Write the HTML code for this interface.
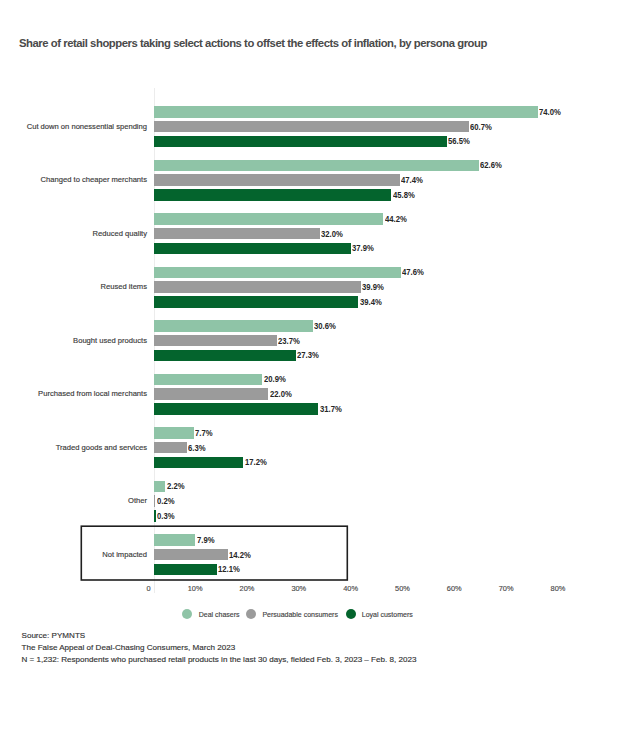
<!DOCTYPE html>
<html><head><meta charset="utf-8"><style>
html,body{margin:0;padding:0;background:#fff;}
.cat,.lt,.src,.tick{-webkit-text-stroke:0.15px currentColor;}
body{width:624px;height:750px;position:relative;overflow:hidden;font-family:"Liberation Sans",sans-serif;}
.title{position:absolute;left:19px;top:36.6px;font-size:11.3px;font-weight:bold;color:#4a4a4a;white-space:nowrap;letter-spacing:-0.46px;line-height:13px;}
.bar{position:absolute;}
.val{position:absolute;font-size:8.5px;transform:scaleX(0.905);transform-origin:0 50%;font-weight:bold;color:#262626;white-space:nowrap;line-height:10px;margin-top:-5px;}
.cat{position:absolute;font-size:7.6px;color:#3a3a3a;white-space:nowrap;line-height:10px;margin-top:-4.8px;text-align:right;}
.axis{position:absolute;left:154px;top:88px;width:1px;height:505px;background:#ececec;}
.box{position:absolute;left:80px;top:525px;width:268px;height:56px;border:2px solid #1c1c1c;box-sizing:border-box;}
.tick{position:absolute;top:583.5px;font-size:7.4px;color:#4a4a4a;line-height:10px;white-space:nowrap;}
.leg{position:absolute;top:609px;height:10px;}
.dot{position:absolute;width:10px;height:10px;border-radius:50%;top:0;}
.lt{position:absolute;font-size:7px;color:#444;white-space:nowrap;line-height:10px;margin-top:0.8px;}
.src{position:absolute;left:21.5px;top:630.3px;font-size:8.08px;color:#333;line-height:11.85px;white-space:nowrap;}
</style></head><body>
<div class="title">Share of retail shoppers taking select actions to offset the effects of inflation, by persona group</div>
<div class="axis"></div>
<div class="bar" style="left:154.07px;top:106.00px;width:383.54px;height:11.5px;background:#8fc4a7"></div><div class="val" style="left:539.11px;top:111.75px">74.0%</div><div class="bar" style="left:154.07px;top:120.75px;width:314.61px;height:11.5px;background:#9b9b9b"></div><div class="val" style="left:470.18px;top:126.50px">60.7%</div><div class="bar" style="left:154.07px;top:135.50px;width:292.84px;height:11.5px;background:#04642d"></div><div class="val" style="left:448.41px;top:141.25px">56.5%</div><div class="cat" style="right:477.00px;top:126.50px">Cut down on nonessential spending</div><div class="bar" style="left:154.07px;top:159.50px;width:324.46px;height:11.5px;background:#8fc4a7"></div><div class="val" style="left:480.03px;top:165.25px">62.6%</div><div class="bar" style="left:154.07px;top:174.25px;width:245.67px;height:11.5px;background:#9b9b9b"></div><div class="val" style="left:401.24px;top:180.00px">47.4%</div><div class="bar" style="left:154.07px;top:189.00px;width:237.38px;height:11.5px;background:#04642d"></div><div class="val" style="left:392.95px;top:194.75px">45.8%</div><div class="cat" style="right:477.00px;top:180.00px">Changed to cheaper merchants</div><div class="bar" style="left:154.07px;top:213.00px;width:229.09px;height:11.5px;background:#8fc4a7"></div><div class="val" style="left:384.66px;top:218.75px">44.2%</div><div class="bar" style="left:154.07px;top:227.75px;width:165.86px;height:11.5px;background:#9b9b9b"></div><div class="val" style="left:321.43px;top:233.50px">32.0%</div><div class="bar" style="left:154.07px;top:242.50px;width:196.44px;height:11.5px;background:#04642d"></div><div class="val" style="left:352.01px;top:248.25px">37.9%</div><div class="cat" style="right:477.00px;top:233.50px">Reduced quality</div><div class="bar" style="left:154.07px;top:266.50px;width:246.71px;height:11.5px;background:#8fc4a7"></div><div class="val" style="left:402.28px;top:272.25px">47.6%</div><div class="bar" style="left:154.07px;top:281.25px;width:206.80px;height:11.5px;background:#9b9b9b"></div><div class="val" style="left:362.37px;top:287.00px">39.9%</div><div class="bar" style="left:154.07px;top:296.00px;width:204.21px;height:11.5px;background:#04642d"></div><div class="val" style="left:359.78px;top:301.75px">39.4%</div><div class="cat" style="right:477.00px;top:287.00px">Reused items</div><div class="bar" style="left:154.07px;top:320.00px;width:158.60px;height:11.5px;background:#8fc4a7"></div><div class="val" style="left:314.17px;top:325.75px">30.6%</div><div class="bar" style="left:154.07px;top:334.75px;width:122.84px;height:11.5px;background:#9b9b9b"></div><div class="val" style="left:278.41px;top:340.50px">23.7%</div><div class="bar" style="left:154.07px;top:349.50px;width:141.50px;height:11.5px;background:#04642d"></div><div class="val" style="left:297.07px;top:355.25px">27.3%</div><div class="cat" style="right:477.00px;top:340.50px">Bought used products</div><div class="bar" style="left:154.07px;top:373.50px;width:108.32px;height:11.5px;background:#8fc4a7"></div><div class="val" style="left:263.89px;top:379.25px">20.9%</div><div class="bar" style="left:154.07px;top:388.25px;width:114.03px;height:11.5px;background:#9b9b9b"></div><div class="val" style="left:269.60px;top:394.00px">22.0%</div><div class="bar" style="left:154.07px;top:403.00px;width:164.30px;height:11.5px;background:#04642d"></div><div class="val" style="left:319.87px;top:408.75px">31.7%</div><div class="cat" style="right:477.00px;top:394.00px">Purchased from local merchants</div><div class="bar" style="left:154.07px;top:427.00px;width:39.91px;height:11.5px;background:#8fc4a7"></div><div class="val" style="left:195.48px;top:432.75px">7.7%</div><div class="bar" style="left:154.07px;top:441.75px;width:32.65px;height:11.5px;background:#9b9b9b"></div><div class="val" style="left:188.22px;top:447.50px">6.3%</div><div class="bar" style="left:154.07px;top:456.50px;width:89.15px;height:11.5px;background:#04642d"></div><div class="val" style="left:244.72px;top:462.25px">17.2%</div><div class="cat" style="right:477.00px;top:447.50px">Traded goods and services</div><div class="bar" style="left:154.07px;top:480.50px;width:11.40px;height:11.5px;background:#8fc4a7"></div><div class="val" style="left:166.97px;top:486.25px">2.2%</div><div class="bar" style="left:154.07px;top:495.25px;width:1.04px;height:11.5px;background:#9b9b9b"></div><div class="val" style="left:156.61px;top:501.00px">0.2%</div><div class="bar" style="left:154.07px;top:510.00px;width:1.55px;height:11.5px;background:#04642d"></div><div class="val" style="left:157.12px;top:515.75px">0.3%</div><div class="cat" style="right:477.00px;top:501.00px">Other</div><div class="bar" style="left:154.07px;top:534.00px;width:40.95px;height:11.5px;background:#8fc4a7"></div><div class="val" style="left:196.52px;top:539.75px">7.9%</div><div class="bar" style="left:154.07px;top:548.75px;width:73.60px;height:11.5px;background:#9b9b9b"></div><div class="val" style="left:229.17px;top:554.50px">14.2%</div><div class="bar" style="left:154.07px;top:563.50px;width:62.71px;height:11.5px;background:#04642d"></div><div class="val" style="left:218.28px;top:569.25px">12.1%</div><div class="cat" style="right:477.00px;top:554.50px">Not impacted</div>
<svg style="position:absolute;left:0;top:0" width="624" height="750"><rect x="81.3" y="526.2" width="266" height="53.8" fill="none" stroke="#1f1f1f" stroke-width="1.6"/></svg>
<div class="tick" style="right:473.33px">0</div><div class="tick" style="right:421.50px">10%</div><div class="tick" style="right:369.67px">20%</div><div class="tick" style="right:317.84px">30%</div><div class="tick" style="right:266.01px">40%</div><div class="tick" style="right:214.18px">50%</div><div class="tick" style="right:162.35px">60%</div><div class="tick" style="right:110.52px">70%</div><div class="tick" style="right:58.69px">80%</div>
<div class="dot" style="left:182px;top:609px;background:#8fc4a7"></div>
<div class="lt" style="left:198.7px;top:609px">Deal chasers</div>
<div class="dot" style="left:245.5px;top:609px;background:#9b9b9b"></div>
<div class="lt" style="left:262.4px;top:609px">Persuadable consumers</div>
<div class="dot" style="left:345.8px;top:609px;background:#04642d"></div>
<div class="lt" style="left:361.8px;top:609px">Loyal customers</div>
<div class="src">Source: PYMNTS<br>The False Appeal of Deal-Chasing Consumers, March 2023<br>N = 1,232: Respondents who purchased retail products in the last 30 days, fielded Feb. 3, 2023 – Feb. 8, 2023</div>
</body></html>
